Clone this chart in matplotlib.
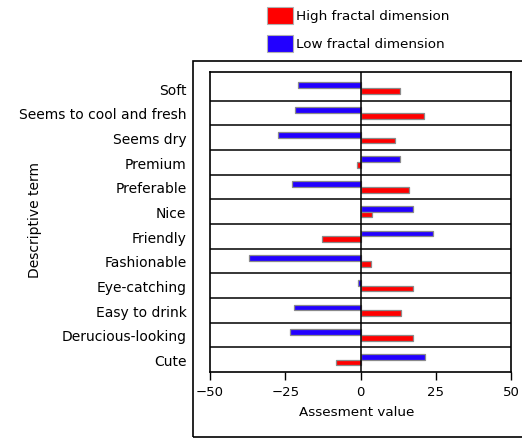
import matplotlib
matplotlib.use("Agg")
import matplotlib.pyplot as plt
from matplotlib.patches import Rectangle

terms = ["Soft", "Seems to cool and fresh", "Seems dry", "Premium", "Preferable",
         "Nice", "Friendly", "Fashionable", "Eye-catching", "Easy to drink",
         "Derucious-looking", "Cute"]
high_fd = [13.0, 21.0, 11.6, -1.1, 16.0, 3.9, -12.7, 3.4, 17.5, 13.4, 17.5, -8.2]
low_fd = [-20.7, -21.8, -27.3, 13.0, -22.6, 17.5, 24.2, -36.9, -0.7, -22.2, -23.3, 21.5]
xticks = [-50, -25, 0, 25, 50]

W, H = 522, 439
fig = plt.figure(figsize=(W / 100, H / 100), dpi=100)
ax = fig.add_axes([210 / W, 1 - 373 / H, 301 / W, 300 / H])

n = len(terms)
ypos = [n - 1 - i for i in range(n)]
bh = 0.24
off = 0.115
red = "#ff0000"
blue = "#2200ff"
ax.barh([y + off for y in ypos], low_fd, height=bh, color=blue,
        edgecolor="#8a8a8a", linewidth=0.9, zorder=3)
ax.barh([y - off for y in ypos], high_fd, height=bh, color=red,
        edgecolor="#8a8a8a", linewidth=0.9, zorder=3)

for k in range(n - 1):
    ax.axhline(k + 0.5, color="black", lw=1.1, zorder=2)
ax.axvline(0, color="black", lw=1.1, zorder=4)

ax.set_xlim(-50, 50)
ax.set_ylim(-0.5, n - 0.5 + 0.16)
ax.set_xticks(xticks)
ax.set_xticklabels([str(v).replace("-", "\u2212") for v in xticks])
ax.set_yticks(ypos)
ax.set_yticklabels(terms)
ax.tick_params(axis="y", length=0, pad=17, labelsize=10)
ax.tick_params(axis="x", direction="out", length=6, width=1, pad=3, labelsize=9.5)
for s in ax.spines.values():
    s.set_linewidth(1.2)
    s.set_color("black")

fig.text(357 / W, 1 - 413 / H, "Assesment value", ha="center", va="center", fontsize=9.7)
fig.text(35 / W, 1 - 220 / H, "Descriptive term", ha="center", va="center",
         rotation=90, fontsize=10)

# outer frame
fig.patches.append(Rectangle((193 / W, 1 - 438 / H), 1.0, (438 - 62) / H,
                             transform=fig.transFigure, fill=False,
                             edgecolor="black", lw=1.2, clip_on=False))

# legend
for (yy, col, lab) in [(8, red, "High fractal dimension"), (36, blue, "Low fractal dimension")]:
    fig.patches.append(Rectangle((267 / W, 1 - (yy + 17) / H), 26 / W, 17 / H,
                                 transform=fig.transFigure, facecolor=col,
                                 edgecolor="#b0b0b0", lw=0.8))
    fig.text(296 / W, 1 - (yy + 8.5) / H, lab, ha="left", va="center", fontsize=9.7)

fig.savefig("out.png", dpi=100)
